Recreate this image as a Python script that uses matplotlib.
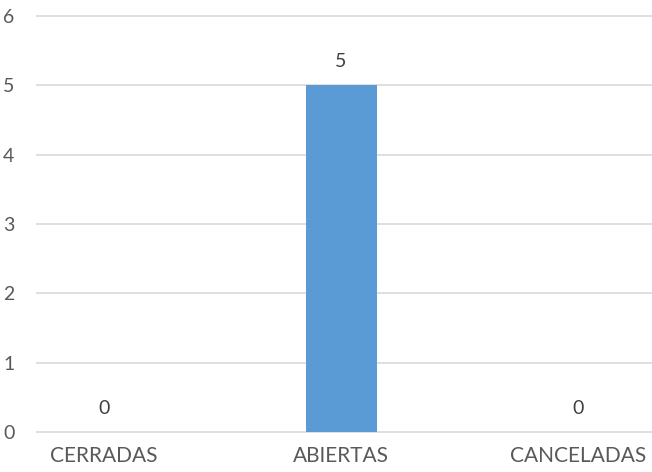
import matplotlib.pyplot as plt

plt.rcParams['font.family'] = ['Lato', 'DejaVu Sans']

categorias = ["CERRADAS", "ABIERTAS", "CANCELADAS"]
valores = [0, 5, 0]

fig = plt.figure(figsize=(6.52, 4.72), dpi=100)
ax = fig.add_axes([37 / 652, 40 / 472, 615 / 652, 416 / 472])

x = list(range(len(categorias)))
barras = ax.bar(x, valores, width=0.3, color="#5B9BD5", zorder=3)

ax.set_xlim(-0.283, 2.312)
ax.set_ylim(0, 6)
ax.set_yticks(range(0, 7))
ax.set_xticks(x)
ax.set_xticklabels(categorias)

ax.grid(axis="y", color="#D9D9D9", linewidth=1.2, zorder=0)
for g in ax.get_ygridlines():
    g.set_clip_on(False)
for lado in ["top", "right", "left", "bottom"]:
    ax.spines[lado].set_visible(False)
ax.tick_params(axis="both", length=0, labelsize=14, colors="#595959")
ax.tick_params(axis="x", labelsize=15, pad=10)
ax.tick_params(axis="y", pad=0)
for t in ax.get_yticklabels():
    t.set_horizontalalignment("left")
    t.set_x(-34 / 615)

# etiquetas de valor sobre cada barra
for b, v in zip(barras, valores):
    ax.annotate(str(v), (b.get_x() + b.get_width() / 2, v),
                xytext=(0, 17), textcoords="offset points",
                ha="center", va="center", fontsize=14, color="#404040")

fig.savefig("out.png", dpi=100)
